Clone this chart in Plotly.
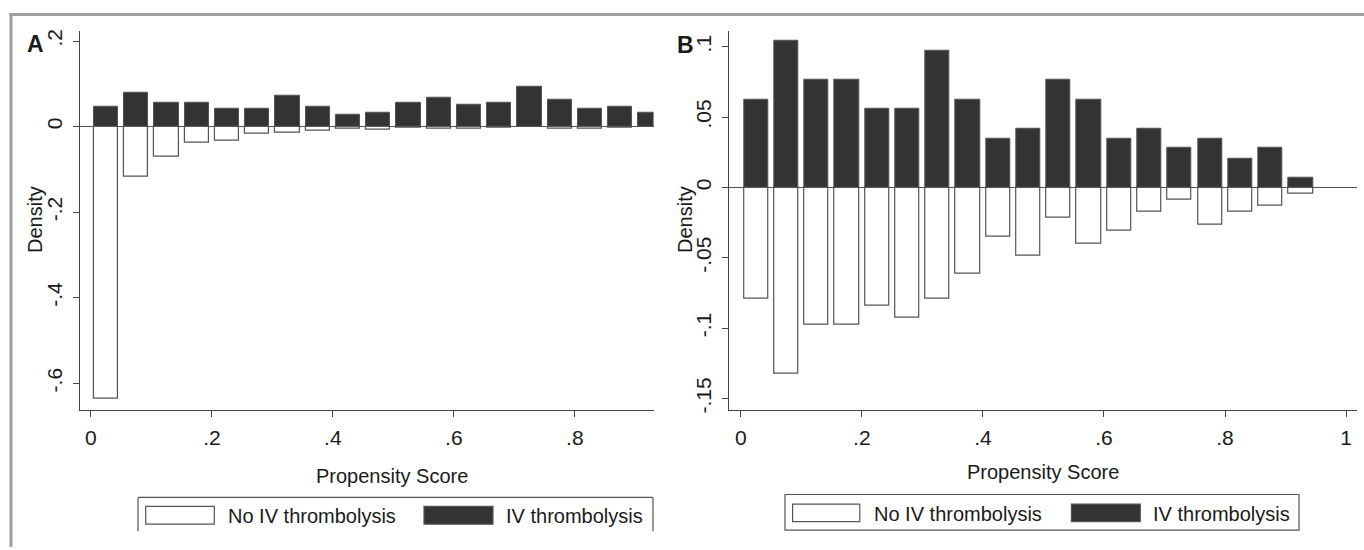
import plotly.graph_objects as go

W, H = 1364, 550

# ---- data ----
bin_centers = [0.025, 0.075, 0.125, 0.175, 0.225, 0.275, 0.325, 0.375, 0.425, 0.475,
               0.525, 0.575, 0.625, 0.675, 0.725, 0.775, 0.825, 0.875, 0.925]

a_iv = [0.047, 0.078, 0.056, 0.056, 0.042, 0.042, 0.072, 0.047, 0.028, 0.032,
        0.056, 0.067, 0.052, 0.056, 0.094, 0.063, 0.042, 0.047, 0.032]
a_no_iv = [-0.635, -0.118, -0.071, -0.038, -0.032, -0.016, -0.014, -0.010, -0.005, -0.008,
           -0.002, -0.005, -0.005, -0.003, -0.001, -0.004, -0.004, -0.002, -0.0005]

b_iv = [0.0627, 0.1045, 0.0768, 0.0768, 0.0559, 0.0559, 0.0972, 0.0627, 0.0350, 0.0418,
        0.0768, 0.0627, 0.0350, 0.0418, 0.0282, 0.0350, 0.0204, 0.0282, 0.0068]
b_no_iv = [-0.0793, -0.1320, -0.0972, -0.0972, -0.0837, -0.0926, -0.0793, -0.0616, -0.0351, -0.0484,
           -0.0216, -0.0398, -0.0309, -0.0174, -0.0088, -0.0263, -0.0174, -0.0128, -0.0042]

a_yticks = [0.2, 0, -0.2, -0.4, -0.6]
a_ytext = [".2", "0", "-.2", "-.4", "-.6"]
a_xticks = [0, 0.2, 0.4, 0.6, 0.8]
a_xtext = ["0", ".2", ".4", ".6", ".8"]

b_yticks = [0.1, 0.05, 0, -0.05, -0.1, -0.15]
b_ytext = [".1", ".05", "0", "-.05", "-.1", "-.15"]
b_xticks = [0, 0.2, 0.4, 0.6, 0.8, 1.0]
b_xtext = ["0", ".2", ".4", ".6", ".8", "1"]

legend_labels = ["No IV thrombolysis", "IV thrombolysis"]
x_title = "Propensity Score"
y_title = "Density"
panel_labels = ["A", "B"]

# ---- style ----
FONT = "Liberation Sans, Arial, sans-serif"
DARK = "#333333"
AXIS = "#444444"
TXT = "#1a1a1a"
BAR_W = 0.04


def px(x):
    return x / W


def py(y):
    return 1 - y / H


fig = go.Figure()

for xa, ya, no_vals, iv_vals in [("x", "y", a_no_iv, a_iv), ("x2", "y2", b_no_iv, b_iv)]:
    fig.add_trace(go.Bar(x=bin_centers, y=no_vals, width=BAR_W, xaxis=xa, yaxis=ya,
                         marker=dict(color="white", line=dict(color="#555555", width=1.2)),
                         name=legend_labels[0], showlegend=False))
    fig.add_trace(go.Bar(x=bin_centers, y=iv_vals, width=BAR_W, xaxis=xa, yaxis=ya,
                         marker=dict(color=DARK, line=dict(color="#555555", width=1)),
                         name=legend_labels[1], showlegend=False))

ax_common = dict(showline=True, linecolor=AXIS, linewidth=1.2, ticks="outside", ticklen=6,
                 tickcolor=AXIS, tickwidth=1.2, showgrid=False,
                 tickfont=dict(family=FONT, size=21, color=TXT))

y_dom = [py(412), py(29)]

fig.update_layout(
    width=W, height=H,
    margin=dict(l=0, r=0, t=0, b=0),
    paper_bgcolor="white", plot_bgcolor="white",
    barmode="overlay", bargap=0,
    showlegend=False,
    xaxis=dict(domain=[px(80), px(653.5)], range=[-0.018, 0.930], anchor="y",
               tickvals=a_xticks, ticktext=a_xtext, zeroline=False, ticklabelstandoff=2, **ax_common),
    yaxis=dict(domain=y_dom, range=[-0.663, 0.224], anchor="x",
               tickvals=a_yticks, ticktext=a_ytext, tickangle=-90,
               zeroline=True, zerolinecolor="#555555", zerolinewidth=1.2, ticklabelstandoff=3, **ax_common),
    xaxis2=dict(domain=[px(729.3), px(1357)], range=[-0.019, 1.018], anchor="y2",
                tickvals=b_xticks, ticktext=b_xtext, zeroline=False, ticklabelstandoff=2, **ax_common),
    yaxis2=dict(domain=y_dom, range=[-0.1583, 0.1114], anchor="x2",
                tickvals=b_yticks, ticktext=b_ytext, tickangle=-90,
                zeroline=True, zerolinecolor="#555555", zerolinewidth=1.2, ticklabelstandoff=3, **ax_common),
)

shapes = []
annotations = []

# outer gray frame (top and left)
shapes.append(dict(type="line", xref="paper", yref="paper", x0=px(9.5), x1=1, y0=py(12.5), y1=py(12.5),
                   line=dict(color="#9e9e9e", width=3)))
shapes.append(dict(type="line", xref="paper", yref="paper", x0=px(11), x1=px(11), y0=py(11), y1=0,
                   line=dict(color="#9e9e9e", width=3)))

# panel letters
for lab, x, y in [(panel_labels[0], 35.5, 42), (panel_labels[1], 685.5, 43)]:
    annotations.append(dict(text="<b>%s</b>" % lab, x=px(x), y=py(y), xref="paper", yref="paper",
                            showarrow=False, xanchor="center", yanchor="middle",
                            font=dict(family=FONT, size=23, color=TXT)))

# axis titles
for x, y in [(35, 220), (685, 220)]:
    annotations.append(dict(text=y_title, x=px(x), y=py(y), xref="paper", yref="paper", textangle=-90,
                            showarrow=False, xanchor="center", yanchor="middle",
                            font=dict(family=FONT, size=20, color=TXT)))
for x, y in [(391.5, 478), (1043, 474.5)]:
    annotations.append(dict(text=x_title, x=px(x), y=py(y), xref="paper", yref="paper",
                            showarrow=False, xanchor="center", yanchor="middle",
                            font=dict(family=FONT, size=20, color=TXT)))

# legends (drawn)
LEG_LINE = dict(color="#555555", width=1.2)
# panel A legend box: top, left, right edges (bottom cut off)
shapes.append(dict(type="line", xref="paper", yref="paper", x0=px(138), x1=px(653), y0=py(500), y1=py(500), line=LEG_LINE))
shapes.append(dict(type="line", xref="paper", yref="paper", x0=px(138), x1=px(138), y0=py(500), y1=py(534), line=LEG_LINE))
shapes.append(dict(type="line", xref="paper", yref="paper", x0=px(653), x1=px(653), y0=py(500), y1=py(534), line=LEG_LINE))
# panel B legend box
shapes.append(dict(type="rect", xref="paper", yref="paper", x0=px(785), x1=px(1299), y0=py(533), y1=py(497),
                   line=LEG_LINE, fillcolor="rgba(0,0,0,0)"))

legend_specs = [
    # (swatch x0, x1, y0, y1, fill, text x, text y, label)
    (145.7, 214.3, 509, 527, "white", 225.5, 519, legend_labels[0]),
    (424, 493, 509, 527, DARK, 504, 519, legend_labels[1]),
    (792.6, 859.8, 506.7, 524.3, "white", 872, 516.5, legend_labels[0]),
    (1071.4, 1140.3, 506.7, 524.3, DARK, 1151, 516.5, legend_labels[1]),
]
for x0, x1, y0, y1, fill, tx, ty, lab in legend_specs:
    shapes.append(dict(type="rect", xref="paper", yref="paper", x0=px(x0), x1=px(x1), y0=py(y1), y1=py(y0),
                       line=dict(color="#555555", width=1.2), fillcolor=fill))
    annotations.append(dict(text=lab, x=px(tx), y=py(ty), xref="paper", yref="paper",
                            showarrow=False, xanchor="left", yanchor="middle",
                            font=dict(family=FONT, size=20, color=TXT)))

fig.update_layout(shapes=shapes, annotations=annotations)

fig.write_html("out.html")
